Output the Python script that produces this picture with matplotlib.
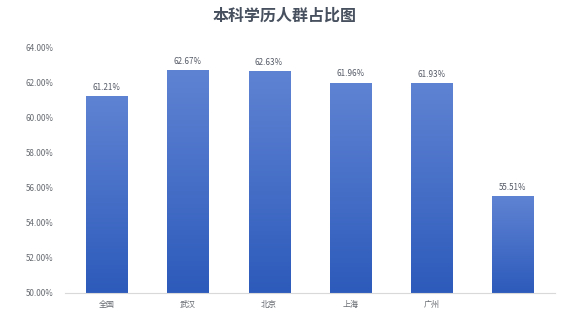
import matplotlib
matplotlib.use("Agg")
import matplotlib.pyplot as plt
import numpy as np
from matplotlib.colors import LinearSegmentedColormap

plt.rcParams['font.family'] = ['Noto Sans CJK SC', 'DejaVu Sans']

categories = ['全国', '武汉', '北京', '上海', '广州', '']
values = [61.21, 62.67, 62.63, 61.96, 61.93, 55.51]
yticks = [50, 52, 54, 56, 58, 60, 62, 64]
title = '本科学历人群占比图'

fig = plt.figure(figsize=(5.70, 3.18), dpi=100)
ax = fig.add_axes([0.114, 0.079, 0.86, 0.773])
ymin, ymax = 50, 64
x = np.arange(len(categories))
bars = ax.bar(x, [v - ymin for v in values], bottom=ymin, width=0.505, color='none', edgecolor='none')
cmap = LinearSegmentedColormap.from_list('g', ['#2d5bbb', '#5f83d3'])
grad = np.linspace(0, 1, 256).reshape(-1, 1)
for b, v in zip(bars, values):
    x0 = b.get_x(); w = b.get_width()
    im = ax.imshow(grad, cmap=cmap, origin='lower', aspect='auto',
                   extent=[x0, x0 + w, ymin, v], zorder=2)
    im.set_clip_path(b)
    ax.text(b.get_x() + w / 2, v + 0.25, f'{v:.2f}%', ha='center', va='bottom',
            fontsize=5.8, color='#555a66')

ax.set_xlim(-0.51, 5.52)
ax.set_ylim(ymin, ymax)
ax.set_yticks(yticks)
ax.set_yticklabels([f'{t:.2f}%' for t in yticks])
ax.set_xticks(x)
ax.set_xticklabels(categories)
ax.tick_params(axis='both', length=0, labelsize=5.8, labelcolor='#666a70')
ax.tick_params(axis='y', pad=8)
ax.tick_params(axis='x', pad=5)
for s in ['top', 'right', 'left']:
    ax.spines[s].set_visible(False)
ax.spines['bottom'].set_color('#d9d9d9')
ax.spines['bottom'].set_linewidth(0.8)
fig.text(0.5, 0.95, title, ha='center', va='center', fontsize=11.5, fontweight='bold', color='#47505e')
fig.savefig('out.png', dpi=100)
